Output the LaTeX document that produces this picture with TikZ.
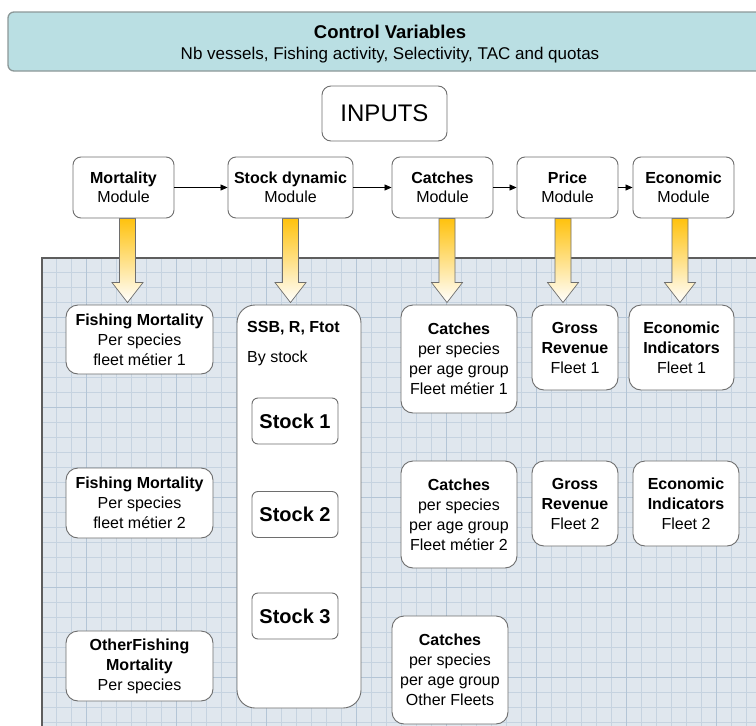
\documentclass[tikz,border=0pt]{standalone}
\usepackage{fontspec}
\setmainfont{Liberation Sans}
\usetikzlibrary{arrows.meta,calc}
\definecolor{ctrlfill}{HTML}{BADFE3}
\definecolor{ctrlborder}{HTML}{8C9898}
\definecolor{panelfill}{HTML}{E0E7EE}
\definecolor{gridc}{HTML}{C6D3E0}
\definecolor{gridmajor}{HTML}{B4C5D6}
\definecolor{panelborder}{HTML}{5E5E5E}
\definecolor{boxgray}{HTML}{6E6E6E}
\definecolor{yarrtop}{HTML}{FFC20E}
\pgfdeclarelayer{bg}
\pgfdeclarelayer{arr}
\pgfsetlayers{bg,arr,main}
\tikzset{
  box/.style={draw=boxgray, fill=white, line width=0.9pt, align=center, inner sep=0pt, text=black},
  modbox/.style={box, rounded corners=8pt, minimum height=61pt, font=\fontsize{16}{19}\selectfont},
  outbox/.style={box, rounded corners=12pt, font=\fontsize{16}{20}\selectfont},
  stockbox/.style={box, rounded corners=6pt, minimum width=86pt, minimum height=46pt, font=\fontsize{20}{24}\selectfont\bfseries},
  flow/.style={line width=0.8pt, -{Triangle[length=7pt,width=6pt]}},
  yarr/.style={draw=boxgray, line width=0.7pt, top color=yarrtop, bottom color=white},
}
\newcommand\yarrow[3]{%
  \begin{pgfonlayer}{arr}
  \shadedraw[yarr] let \p1=(#1.south), \p2=(#2.north) in
    ({\x1+(#3pt)-8pt},\y1) -- ({\x1+(#3pt)-8pt},{\y2+22pt}) --
    ({\x1+(#3pt)-15.5pt},{\y2+22pt}) -- ({\x1+(#3pt)},{\y2+2pt}) --
    ({\x1+(#3pt)+15.5pt},{\y2+22pt}) -- ({\x1+(#3pt)+8pt},{\y2+22pt}) --
    ({\x1+(#3pt)+8pt},\y1) -- cycle;
  \end{pgfonlayer}}
\begin{document}
\begin{tikzpicture}[x=1pt,y=-1pt]
\useasboundingbox (0,0) rectangle (756,726);
\clip (0,0) rectangle (756,726);
% control variables
\node[draw=ctrlborder, fill=ctrlfill, line width=1.3pt, rounded corners=6pt,
      minimum width=760pt, minimum height=59pt, inner sep=0pt] (ctrl) at (388,41.5) {};
\node[align=center, inner sep=0pt, font=\fontsize{17}{21}\selectfont] (ctrltext) at (390,44)
      {{\fontsize{18.5}{21}\selectfont\bfseries Control Variables}\\Nb vessels, Fishing activity, Selectivity, TAC and quotas};
% inputs
\node[box, rounded corners=9pt, minimum width=125pt, minimum height=55pt, font=\fontsize{24}{28}\selectfont] (inputs) at (384.5,113.5) {INPUTS};
% modules
\node[modbox, minimum width=101pt] (mort)   at (123.5,187.5) {\textbf{Mortality}\\Module};
\node[modbox, minimum width=125pt] (stockm) at (290.5,187.5) {\textbf{Stock dynamic}\\Module};
\node[modbox, minimum width=101pt] (catchm) at (442.5,187.5) {\textbf{Catches}\\Module};
\node[modbox, minimum width=101pt] (price)  at (567.5,187.5) {\textbf{Price}\\Module};
\node[modbox, minimum width=101pt] (econ)   at (683.5,187.5) {\textbf{Economic}\\Module};
\draw[flow] (mort) -- (stockm);
\draw[flow] (stockm) -- (catchm);
\draw[flow] (catchm) -- (price);
\draw[flow] (price) -- (econ);
% panel
\begin{pgfonlayer}{bg}
\fill[panelfill] (42,258) rectangle (800,800);
\begin{scope}
\clip (42,258) rectangle (800,800);
\foreach \x in {56,71,...,761} \draw[gridc, line width=0.5pt] (\x,258) -- (\x,800);
\foreach \y in {272,287,...,737} \draw[gridc, line width=0.5pt] (42,\y) -- (800,\y);
\foreach \x in {86.7,176.7,...,761} \draw[gridmajor, line width=0.6pt] (\x,258) -- (\x,800);
\foreach \y in {317,407,...,737} \draw[gridmajor, line width=0.6pt] (42,\y) -- (800,\y);
\end{scope}
\draw[panelborder, line width=1.6pt] (42,800) -- (42,258) -- (800,258);
\end{pgfonlayer}
% outputs column 1
\node[outbox, minimum width=147pt, minimum height=69pt] (fm1) at (139.5,339.5) {\textbf{Fishing Mortality}\\Per species\\fleet métier 1};
\node[outbox, minimum width=147pt, minimum height=70pt] (fm2) at (139.5,503) {\textbf{Fishing Mortality}\\Per species\\fleet métier 2};
\node[outbox, minimum width=147pt, minimum height=70pt] (ofm) at (139.5,666) {\textbf{OtherFishing}\\\textbf{Mortality}\\Per species};
% ssb column
\node[box, rounded corners=18pt, minimum width=124pt, minimum height=403pt] (ssb) at (299,506.5) {};
\node[anchor=west, inner sep=0pt, font=\fontsize{16}{20}\selectfont\bfseries] (ssbt) at (247,328) {SSB, R, Ftot};
\node[anchor=west, inner sep=0pt, font=\fontsize{16}{20}\selectfont] (bys) at (247,358) {By stock};
\node[stockbox] (s1) at (295,421) {Stock 1};
\node[stockbox] (s2) at (295,514.5) {Stock 2};
\node[stockbox] (s3) at (295,616) {Stock 3};
% catches
\node[outbox, minimum width=116pt, minimum height=108pt] (c1) at (459,359) {\textbf{Catches}\\per species\\per age group\\Fleet métier 1};
\node[outbox, minimum width=116pt, minimum height=107pt] (c2) at (459,514.5) {\textbf{Catches}\\per species\\per age group\\Fleet métier 2};
\node[outbox, minimum width=116pt, minimum height=108pt] (c3) at (450,670) {\textbf{Catches}\\per species\\per age group\\Other Fleets};
% gross revenue
\node[outbox, minimum width=86pt, minimum height=85pt] (g1) at (575,347.5) {\textbf{Gross}\\\textbf{Revenue}\\Fleet 1};
\node[outbox, minimum width=86pt, minimum height=85pt] (g2) at (575,503.5) {\textbf{Gross}\\\textbf{Revenue}\\Fleet 2};
% economic indicators
\node[outbox, minimum width=105pt, minimum height=85pt] (e1) at (681.5,347.5) {\textbf{Economic}\\\textbf{Indicators}\\Fleet 1};
\node[outbox, minimum width=106pt, minimum height=85pt] (e2) at (686,503.5) {\textbf{Economic}\\\textbf{Indicators}\\Fleet 2};
% yellow arrows
\yarrow{mort}{fm1}{4}
\yarrow{stockm}{ssb}{0}
\yarrow{catchm}{c1}{4.5}
\yarrow{price}{g1}{-4.5}
\yarrow{econ}{e1}{-3.5}
\end{tikzpicture}
\end{document}
